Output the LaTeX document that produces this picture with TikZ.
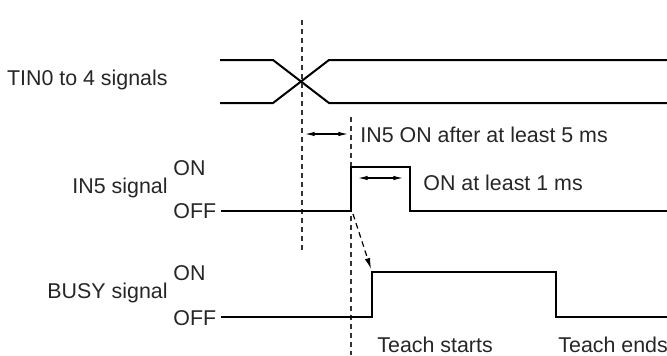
\documentclass[tikz,border=0pt]{standalone}
\usepackage{fontspec}
\setmainfont{Liberation Sans}
\usetikzlibrary{arrows.meta}
\begin{document}
\begin{tikzpicture}[x=0.5pt,y=-0.5pt,
  sig/.style={line width=1pt,line join=miter},
  guide/.style={line width=0.6pt,dash pattern=on 2.5pt off 2pt,black!80},
  dim/.style={line width=0.55pt,{Latex[length=4.8pt,width=2.2pt]}-{Latex[length=4.8pt,width=2.2pt]}},
  lbl/.style={inner sep=0pt,font=\fontsize{10.7}{12}\selectfont,text=black!85}]
\useasboundingbox (0,0) rectangle (667,355);
% coordinates
\coordinate (t1) at (220,60);
\coordinate (t2) at (220,103);
\coordinate (xa) at (273,60);
\coordinate (xb) at (273,103);
\coordinate (xc) at (329,103);
\coordinate (xd) at (329,60);
\coordinate (te1) at (667,60);
\coordinate (te2) at (667,103);
% TIN waveform
\draw[sig] (t1) -- (xa) -- (xc) -- (te2);
\draw[sig] (t2) -- (xb) -- (xd) -- (te1);
% guides
\coordinate (g1a) at (302,20);
\coordinate (g1b) at (302,250);
\coordinate (g2a) at (351,117);
\coordinate (g2b) at (351,355);
\draw[guide] (g1a) -- (g1b);
\draw[guide] (g2a) -- (g2b);
% IN5 waveform
\coordinate (i0) at (221,211);
\coordinate (i1) at (351,211);
\coordinate (i2) at (351,167);
\coordinate (i3) at (410,167);
\coordinate (i4) at (410,211);
\coordinate (i5) at (667,211);
\draw[sig] (i0) -- (i1) -- (i2) -- (i3) -- (i4) -- (i5);
% BUSY waveform
\coordinate (b0) at (221,317);
\coordinate (b1) at (372,317);
\coordinate (b2) at (372,272);
\coordinate (b3) at (556,272);
\coordinate (b4) at (556,317);
\coordinate (b5) at (667,317);
\draw[sig] (b0) -- (b1) -- (b2) -- (b3) -- (b4) -- (b5);
% dimension arrows
\coordinate (d1a) at (305,134);
\coordinate (d1b) at (348,134);
\draw[dim] (d1a) -- (d1b);
\coordinate (d2a) at (358,178);
\coordinate (d2b) at (403,178);
\draw[dim] (d2a) -- (d2b);
% dashed causal arrow
\coordinate (ca) at (353,214);
\coordinate (cb) at (371,269);
\draw[line width=0.6pt,dash pattern=on 2.8pt off 2pt,-{Latex[length=5.5pt,width=2.8pt]}] (ca) -- (cb);
% labels
\node[lbl,anchor=base east] (ltin) at (168,85) {TIN0 to 4 signals};
\node[lbl,anchor=base east] (lin5) at (168,193) {IN5 signal};
\node[lbl,anchor=base west] (lin5on) at (173,175) {ON};
\node[lbl,anchor=base west] (lin5off) at (173,218) {OFF};
\node[lbl,anchor=base east] (lbusy) at (168,298) {BUSY signal};
\node[lbl,anchor=base west] (lbon) at (173,280) {ON};
\node[lbl,anchor=base west] (lboff) at (173,325) {OFF};
\node[lbl,anchor=base west] (l5ms) at (360,142) {IN5 ON after at least 5 ms};
\node[lbl,anchor=base west] (l1ms) at (423,190) {ON at least 1 ms};
\node[lbl,anchor=base west] (lts) at (377,352) {Teach starts};
\node[lbl,anchor=base west] (lte) at (558,352) {Teach ends};
\end{tikzpicture}
\end{document}
